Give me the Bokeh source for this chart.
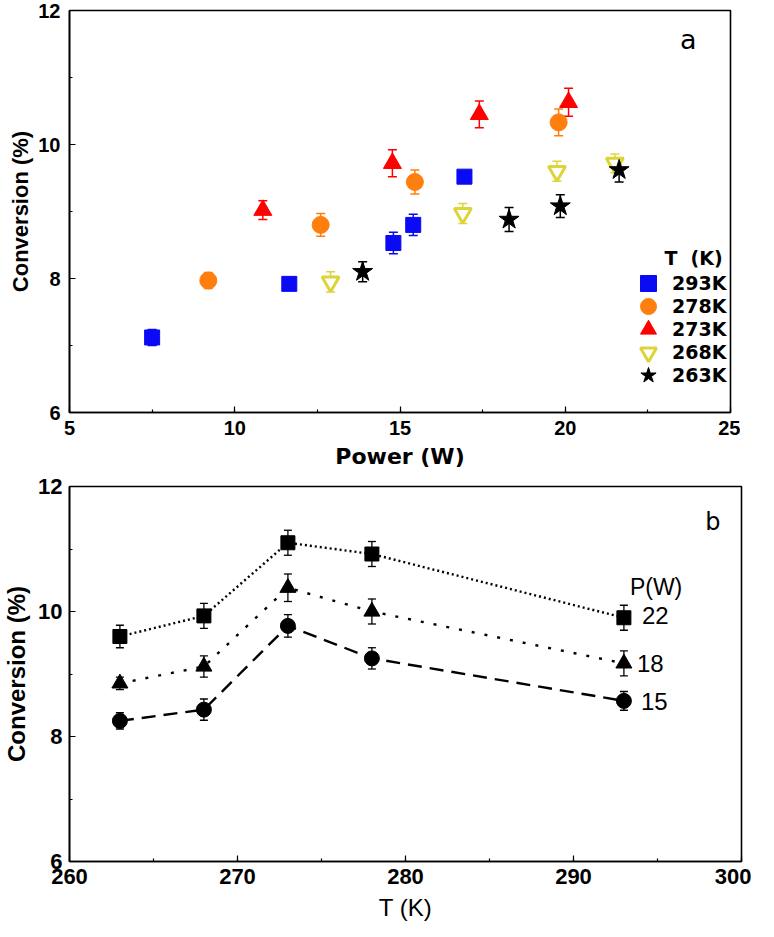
from bokeh.plotting import figure
from bokeh.layouts import column
from bokeh.models import (Range1d, SingleIntervalTicker, Whisker, TeeHead,
                          ColumnDataSource, Legend, LegendItem, Label)
from bokeh.embed import file_html
from bokeh.resources import INLINE

# ---------------- Panel a data: Conversion (%) vs Power (W) ----------------
a_labels = ["293K", "278K", "273K", "268K", "263K"]
p293_x = [7.5, 11.65, 14.8, 15.4, 16.95]
p293_y = [7.12, 7.92, 8.53, 8.80, 9.52]
p293_e = [0.12, 0.06, 0.16, 0.16, 0.08]
p278_x = [9.2, 12.6, 15.45, 19.8]
p278_y = [7.97, 8.80, 9.44, 10.33]
p278_e = [0.12, 0.17, 0.18, 0.20]
p273_x = [10.85, 14.77, 17.4, 20.1]
p273_y = [9.02, 9.72, 10.45, 10.63]
p273_e = [0.14, 0.20, 0.20, 0.21]
p268_x = [12.9, 16.9, 19.75, 21.5]
p268_y = [7.95, 8.97, 9.60, 9.72]
p268_e = [0.15, 0.15, 0.15, 0.14]
p263_x = [13.87, 18.3, 19.85, 21.63]
p263_y = [8.10, 8.88, 9.08, 9.62]
p263_e = [0.15, 0.18, 0.17, 0.18]

# ---------------- Panel b data: Conversion (%) vs T (K) ----------------
T_vals = [263, 268, 273, 278, 293]
c22 = [9.60, 9.93, 11.10, 10.92, 9.90]
e22 = [0.18, 0.20, 0.20, 0.20, 0.20]
c18 = [8.85, 9.12, 10.38, 10.00, 9.17]
e18 = [0.10, 0.17, 0.22, 0.20, 0.20]
c15 = [8.25, 8.43, 9.77, 9.25, 8.57]
e15 = [0.13, 0.17, 0.18, 0.17, 0.15]
b_labels = ["22", "18", "15"]


def style_axes(p, tick_font, tick_size, tick_style, title_font, title_size,
               title_style, xlab_stand, xtitle_stand, ylab_stand, ytitle_stand,
               xtitle_font=None, xtitle_size=None, xtitle_style=None):
    for ax in (p.xaxis[0], p.yaxis[0]):
        ax.axis_line_width = 1.6
        ax.axis_line_color = "black"
        ax.major_tick_in = 6
        ax.major_tick_out = 0
        ax.minor_tick_in = 3
        ax.minor_tick_out = 0
        ax.major_tick_line_width = 1.2
        ax.minor_tick_line_width = 1.2
        ax.major_label_text_font = tick_font
        ax.major_label_text_font_size = tick_size
        ax.major_label_text_font_style = tick_style
        ax.major_label_text_color = "black"
        ax.axis_label_text_color = "black"
    p.yaxis[0].axis_label_text_font = title_font
    p.yaxis[0].axis_label_text_font_size = title_size
    p.yaxis[0].axis_label_text_font_style = title_style
    p.xaxis[0].axis_label_text_font = xtitle_font or title_font
    p.xaxis[0].axis_label_text_font_size = xtitle_size or title_size
    p.xaxis[0].axis_label_text_font_style = xtitle_style or title_style
    p.xaxis[0].major_label_standoff = xlab_stand
    p.xaxis[0].axis_label_standoff = xtitle_stand
    p.yaxis[0].major_label_standoff = ylab_stand
    p.yaxis[0].axis_label_standoff = ytitle_stand
    p.xgrid.visible = False
    p.ygrid.visible = False
    p.outline_line_color = "black"
    p.outline_line_width = 1.6
    p.outline_line_alpha = 1.0


# ================= Panel a =================
pa = figure(width=740, height=474, output_backend="svg", toolbar_location=None,
            x_range=Range1d(5, 25), y_range=Range1d(6, 12),
            min_border_left=60, min_border_right=10, min_border_top=10,
            min_border_bottom=62, x_axis_label="Power (W)",
            y_axis_label="Conversion (%)", background_fill_color="white",
            border_fill_color="white")
pa.xaxis[0].ticker = SingleIntervalTicker(interval=5, num_minor_ticks=2)
pa.yaxis[0].ticker = SingleIntervalTicker(interval=2, num_minor_ticks=2)
style_axes(pa, "Liberation Sans", "20px", "bold", "Liberation Sans", "22px", "bold",
           8, 6, 9, 2, xtitle_font="DejaVu Sans", xtitle_size="22px",
           xtitle_style="bold")

series_a = [
    (p293_x, p293_y, p293_e, "square", "#0A0AF5", 15, "#0A0AF5", 1),
    (p278_x, p278_y, p278_e, "circle", "#FF7F0E", 17, "#FF7F0E", 1),
    (p273_x, p273_y, p273_e, "triangle", "#FF0000", 18, "#FF0000", 1),
    (p268_x, p268_y, p268_e, "inverted_triangle", "white", 17, "#DDD43A", 3),
    (p263_x, p263_y, p263_e, "star", "#000000", 21, "#000000", 1),
]
# one single-item legend per series so rows can sit closer than the glyph box
legend_row_bottoms = [109, 86, 63, 40, 17]
for (xs, ys, es, mk, fc, sz, lc, lw), lab, vy in zip(series_a, a_labels,
                                                     legend_row_bottoms):
    src = ColumnDataSource(dict(x=xs, y=ys,
                                upper=[y + e for y, e in zip(ys, es)],
                                lower=[y - e for y, e in zip(ys, es)]))
    wk = Whisker(base="x", upper="upper", lower="lower", source=src,
                 line_color=lc, line_width=1.5,
                 upper_head=TeeHead(size=9, line_color=lc, line_width=1.5),
                 lower_head=TeeHead(size=9, line_color=lc, line_width=1.5))
    pa.add_layout(wk)
    r = pa.scatter("x", "y", source=src, marker=mk, size=sz, fill_color=fc,
                   line_color=lc, line_width=lw)
    lg = Legend(items=[LegendItem(label=lab, renderers=[r])], location=(559, vy),
                glyph_width=40, glyph_height=40, label_standoff=4, padding=0,
                margin=0, border_line_color=None, background_fill_alpha=0,
                label_text_font="DejaVu Sans", label_text_font_size="19px",
                label_text_font_style="bold", label_text_color="black",
                label_height=20)
    pa.add_layout(lg, "center")

pa.add_layout(Label(x=23.0, y=8.31, text="T\u00a0\u00a0(K)", text_font="DejaVu Sans",
                    text_font_size="19px", text_font_style="bold",
                    text_color="black", text_baseline="middle",
                    text_align="left"))
pa.add_layout(Label(x=23.72, y=11.57, text="a", text_font="DejaVu Sans",
                    text_font_size="27px", text_color="black",
                    text_baseline="middle", text_align="center"))

# ================= Panel b =================
pb = figure(width=751, height=449, output_backend="svg", toolbar_location=None,
            x_range=Range1d(260, 300), y_range=Range1d(6, 12),
            min_border_left=66, min_border_right=10, min_border_top=12,
            min_border_bottom=60, x_axis_label="T (K)",
            y_axis_label="Conversion (%)", background_fill_color="white",
            border_fill_color="white")
pb.xaxis[0].ticker = SingleIntervalTicker(interval=10, num_minor_ticks=2)
pb.yaxis[0].ticker = SingleIntervalTicker(interval=2, num_minor_ticks=2)
style_axes(pb, "Liberation Sans", "22px", "bold", "Liberation Sans", "24px", "bold",
           7, 7, 7, 5, xtitle_font="Liberation Sans", xtitle_size="24px",
           xtitle_style="normal")

series_b = [
    (c22, e22, "square", 14, "2 3"),
    (c18, e18, "triangle", 16, "3 10"),
    (c15, e15, "circle", 15, "14 8"),
]
label_offsets = [(18, 2), (13, 0), (17, -1)]
for (cs, es, mk, sz, dash), lab, (dx, dy) in zip(series_b, b_labels, label_offsets):
    src = ColumnDataSource(dict(x=T_vals, y=cs,
                                upper=[y + e for y, e in zip(cs, es)],
                                lower=[y - e for y, e in zip(cs, es)]))
    pb.line("x", "y", source=src, line_color="black", line_width=2.4,
            line_dash=dash)
    wk = Whisker(base="x", upper="upper", lower="lower", source=src,
                 line_color="black", line_width=1.3,
                 upper_head=TeeHead(size=8, line_color="black", line_width=1.3),
                 lower_head=TeeHead(size=8, line_color="black", line_width=1.3))
    pb.add_layout(wk)
    pb.scatter("x", "y", source=src, marker=mk, size=sz, fill_color="black",
               line_color="black")
    pb.add_layout(Label(x=T_vals[-1], y=cs[-1], x_offset=dx, y_offset=dy,
                        text=lab, text_font="Liberation Sans",
                        text_font_size="24px", text_color="black",
                        text_baseline="middle", text_align="left"))

pb.add_layout(Label(x=T_vals[-1], y=c22[-1], x_offset=6, y_offset=31,
                    text="P(W)", text_font="Liberation Sans",
                    text_font_size="23px", text_color="black",
                    text_baseline="middle", text_align="left"))
pb.add_layout(Label(x=298.3, y=11.43, text="b", text_font="DejaVu Sans",
                    text_font_size="24px", text_color="black",
                    text_baseline="middle", text_align="center"))

layout = column(pa, pb, spacing=0)
open("out.html", "w").write(file_html(layout, INLINE))
